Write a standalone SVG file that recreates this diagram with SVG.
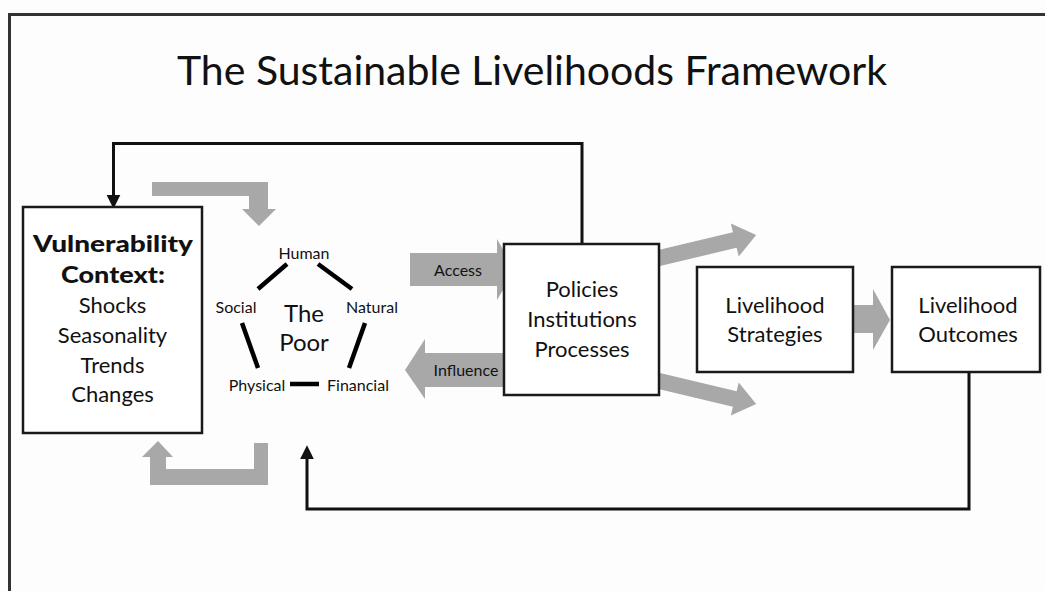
<svg xmlns="http://www.w3.org/2000/svg" width="1045" height="591" viewBox="0 0 1045 591">
<defs>
<style>
text{font-family:Lato,"Liberation Sans",sans-serif;fill:#111;text-anchor:middle}
.box{fill:#fff;stroke:#1a1a1a;stroke-width:2.5}
.g{fill:#a8a8a8}
.fb{fill:none;stroke:#111;stroke-width:3}
.pent{stroke:#000;stroke-width:4.5;stroke-linecap:butt}
.t22{font-size:22px}
.t16{font-size:16px}
.b{font-weight:900;font-size:23px}
</style>
<marker id="ah" markerUnits="userSpaceOnUse" markerWidth="14" markerHeight="14" viewBox="0 0 12 12" refX="2" refY="6" orient="auto">
<path d="M0,0 L12,6 L0,12 z" fill="#111"/>
</marker>
</defs>
<rect x="0" y="0" width="1045" height="591" fill="#fdfdfd"/>
<path d="M9.5,600 V14.5 H1050" fill="none" stroke="#333" stroke-width="3"/>
<text x="532" y="85" style="font-size:41px">The Sustainable Livelihoods Framework</text>

<g id="connectors">
<path class="fb" d="M582,244 V143.5 H113.5 V197" marker-end="url(#ah)"/>
<path class="fb" d="M969,372 V509 H307 V457" marker-end="url(#ah)"/>
<polygon class="g" points="152,182 268,182 268,209 276,209 259,226 242,209 249,209 249,196 152,196"/>
<polygon class="g" points="268,443 268,485 150,485 150,457 142,457 158,441 173,457 166,457 166,469 254,469 254,443"/>
<polygon class="g" points="410,253 497,253 497,239 515,270 497,300 497,286 410,286"/>
<polygon class="g" points="510,353 425,353 425,339 405,370 425,399 425,387 510,387"/>
<polygon class="g" transform="translate(655,259) rotate(-13.4)" points="0,-8 82,-8 82,-17 104,0 82,17 82,8 0,8"/>
<polygon class="g" transform="translate(655,380) rotate(13.4)" points="0,-8 82,-8 82,-17 104,0 82,17 82,8 0,8"/>
<polygon class="g" points="853,305 873,305 873,289 890,320 873,350 873,333 853,333"/>
</g>

<g id="vulnerability">
<rect class="box" x="23" y="207" width="179" height="226"/>
<text class="b" x="113" y="252" textLength="160" lengthAdjust="spacingAndGlyphs">Vulnerability</text>
<text class="b" x="113" y="283" textLength="104" lengthAdjust="spacingAndGlyphs">Context:</text>
<text class="t22" x="112.5" y="313">Shocks</text>
<text class="t22" x="112.5" y="343">Seasonality</text>
<text class="t22" x="112.5" y="373">Trends</text>
<text class="t22" x="112.5" y="402">Changes</text>
</g>

<g id="assets">
<line class="pent" x1="287" y1="264" x2="258" y2="289"/>
<line class="pent" x1="318" y1="264" x2="352" y2="289"/>
<line class="pent" x1="242" y1="323" x2="258" y2="368"/>
<line class="pent" x1="365" y1="323" x2="349" y2="368"/>
<line class="pent" x1="290" y1="384" x2="319" y2="384"/>
<text class="t16" x="304" y="259">Human</text>
<text class="t16" x="236" y="313">Social</text>
<text class="t16" x="372" y="313">Natural</text>
<text class="t16" x="257" y="391">Physical</text>
<text class="t16" x="358" y="391">Financial</text>
<text x="304" y="322" style="font-size:24px">The</text>
<text x="304" y="351" style="font-size:24px">Poor</text>
</g>

<g id="access-label"><text class="t16" x="458" y="276">Access</text></g>
<g id="influence-label"><text class="t16" x="466" y="376">Influence</text></g>

<g id="policies">
<rect class="box" x="504" y="244" width="155" height="151"/>
<text class="t22" x="582" y="297">Policies</text>
<text class="t22" x="582" y="327">Institutions</text>
<text class="t22" x="582" y="357">Processes</text>
</g>

<g id="strategies">
<rect class="box" x="697" y="267" width="156" height="105"/>
<text class="t22" x="775" y="313">Livelihood</text>
<text class="t22" x="775" y="342">Strategies</text>
</g>

<g id="outcomes">
<rect class="box" x="892" y="267" width="148" height="105"/>
<text class="t22" x="968" y="313">Livelihood</text>
<text class="t22" x="968" y="342">Outcomes</text>
</g>
</svg>
